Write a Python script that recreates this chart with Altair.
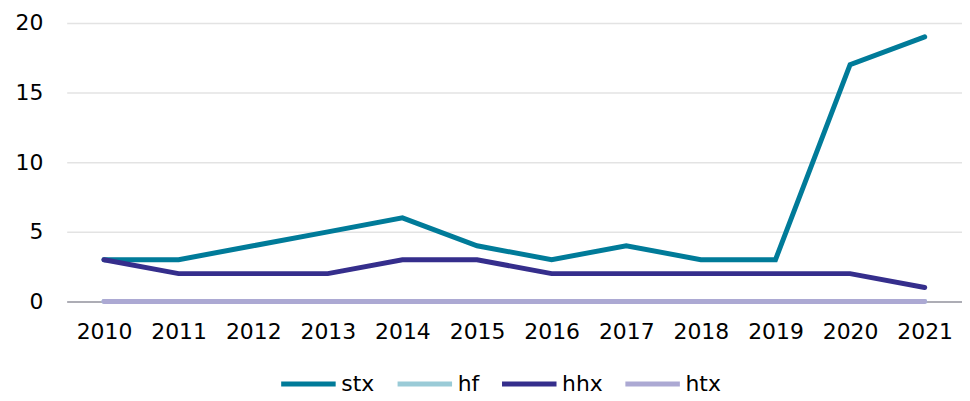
import altair as alt
import pandas as pd

years = ["2010", "2011", "2012", "2013", "2014", "2015", "2016", "2017", "2018", "2019", "2020", "2021"]
stx = [3, 3, 4, 5, 6, 4, 3, 4, 3, 3, 17, 19]
hf = [0, 0, 0, 0, 0, 0, 0, 0, 0, 0, 0, 0]
hhx = [3, 2, 2, 2, 3, 3, 2, 2, 2, 2, 2, 1]
htx = [0, 0, 0, 0, 0, 0, 0, 0, 0, 0, 0, 0]

series_names = ["stx", "hf", "hhx", "htx"]
series_values = [stx, hf, hhx, htx]
colors = ["#007B99", "#9ACBD7", "#352E8C", "#ACA9D3"]

rows = []
for name, vals in zip(series_names, series_values):
    for y, v in zip(years, vals):
        rows.append({"year": y, "value": v, "series": name})
df = pd.DataFrame(rows)

FONT = "DejaVu Sans"

color = alt.Color(
    "series:N",
    scale=alt.Scale(domain=series_names, range=colors),
    legend=alt.Legend(
        title=None,
        orient="none",
        direction="horizontal",
        legendX=213,
        legendY=333,
        symbolType="stroke",
        symbolSize=3000,
        symbolStrokeWidth=5,
        labelFontSize=22,
        labelFont=FONT,
        labelColor="#000000",
        labelOffset=3,
        columnPadding=12,
        padding=0,
    ),
)

layers = []
for name in series_names:
    layers.append(
        alt.Chart(df)
        .transform_filter(alt.datum.series == name)
        .mark_line(strokeWidth=5, strokeCap="round", strokeJoin="miter")
        .encode(
            x=alt.X(
                "year:O",
                sort=years,
                title=None,
                axis=alt.Axis(
                    labelAngle=0,
                    labelFontSize=22,
                    labelFont=FONT,
                    labelColor="#000000",
                    labelPadding=20,
                    ticks=False,
                    domain=True,
                    domainColor="#ADADB5",
                    domainWidth=2,
                    grid=False,
                ),
            ),
            y=alt.Y(
                "value:Q",
                title=None,
                scale=alt.Scale(domain=[0, 20], nice=False),
                axis=alt.Axis(
                    values=[0, 5, 10, 15, 20],
                    labelFontSize=22,
                    labelFont=FONT,
                    labelColor="#000000",
                    labelPadding=24,
                    ticks=False,
                    domain=False,
                    grid=True,
                    gridColor="#E3E3E3",
                    gridWidth=1.5,
                ),
            ),
            color=color,
        )
    )

chart = (
    alt.layer(*layers)
    .properties(width=900, height=280, padding={"left": 7, "top": 3, "right": 0, "bottom": 0})
    .configure_view(stroke=None)
    .configure_scale(pointPadding=0.5)
)

chart.save("out.html", embed_options={"renderer": "svg", "actions": False})
